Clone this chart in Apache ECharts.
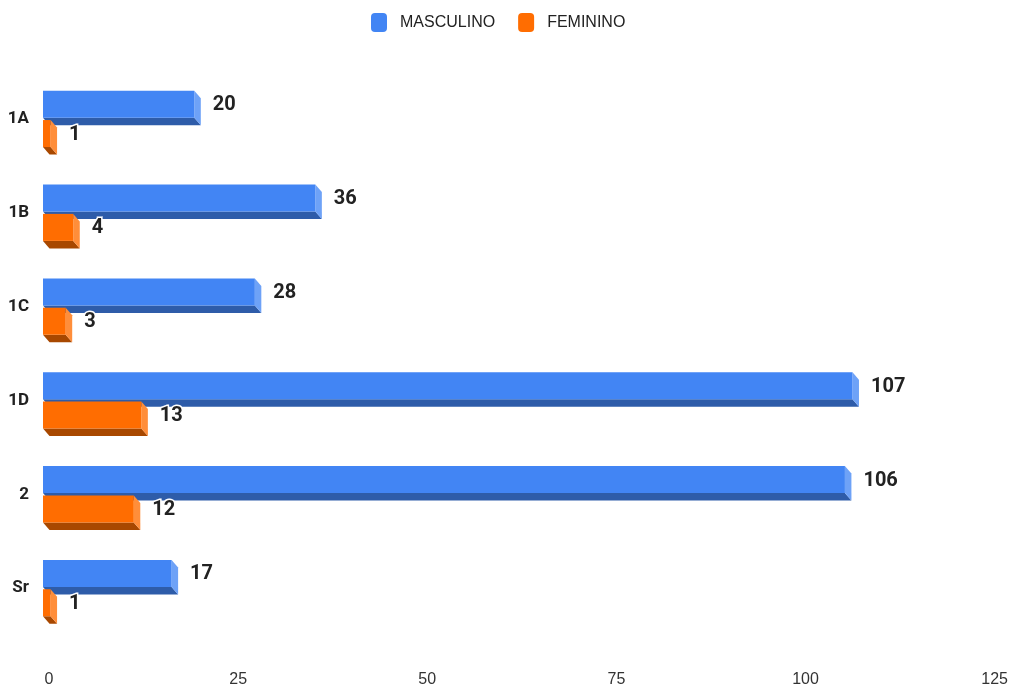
<!DOCTYPE html>
<html>
<head>
<meta charset="utf-8">
<script src="https://cdn.jsdelivr.net/npm/echarts@6/dist/echarts.min.js"></script>
<style>
html,body{margin:0;padding:0;background:#fff;}
#chart{width:1011px;height:688px;}
</style>
</head>
<body>
<div id="chart"></div>
<script>
const categories = ['1A', '1B', '1C', '1D', '2', 'Sr'];
const masculino = [20, 36, 28, 107, 106, 17];
const feminino = [1, 4, 3, 13, 12, 1];
const seriesNames = ['MASCULINO', 'FEMININO'];
const xMin = 0, xMax = 125, xInterval = 25;

const DX = 6.5, DY = 7.5;
const BAR_RATIO = 0.288;
const OFFSET_RATIO = 0.156;

function makeRender(sign, front, bottom, side) {
  return function (params, api) {
    const v = api.value(0);
    const c = api.value(1);
    const p0 = api.coord([0, c]);
    const p1 = api.coord([v, c]);
    const band = api.size([0, 1])[1];
    const h = band * BAR_RATIO;
    const yc = p0[1] + sign * band * OFFSET_RATIO;
    const x0 = p0[0], x1 = p1[0];
    const y0 = yc - h / 2, y1 = yc + h / 2;
    return {
      type: 'group',
      children: [
        { type: 'polygon', shape: { points: [[x0, y1], [x1, y1], [x1 + DX, y1 + DY], [x0 + DX, y1 + DY]] }, style: { fill: bottom } },
        { type: 'polygon', shape: { points: [[x1, y0], [x1 + DX, y0 + DY], [x1 + DX, y1 + DY], [x1, y1]] }, style: { fill: side } },
        { type: 'rect', shape: { x: x0, y: y0, width: x1 - x0, height: h }, style: { fill: front } },
        { type: 'text', z2: 100, style: {
            text: String(v), x: x1 + DX + 12, y: yc + 1,
            verticalAlign: 'middle', align: 'left',
            fontFamily: 'Roboto', fontWeight: 'bold', fontSize: 20,
            fill: '#222', stroke: '#fff', lineWidth: 3
          } }
      ]
    };
  };
}

const chart = echarts.init(document.getElementById('chart'), null, { renderer: 'canvas' });
chart.setOption({
  animation: false,
  backgroundColor: '#fff',
  legend: {
    left: 366, top: 8,
    itemWidth: 16, itemHeight: 19, itemGap: 23,
    icon: 'roundRect',
    textStyle: { fontFamily: 'Liberation Sans', fontSize: 16, color: '#222', padding: [0, 0, 0, 8] },
    data: seriesNames
  },
  grid: { left: 43, right: 20.5, top: 72, bottom: 49, containLabel: false },
  xAxis: {
    type: 'value', min: xMin, max: xMax, interval: xInterval,
    axisLine: { show: false }, axisTick: { show: false }, splitLine: { show: false },
    axisLabel: { fontFamily: 'Liberation Sans', fontSize: 16, color: '#333', margin: 37, padding: [0, 0, 0, 12] }
  },
  yAxis: {
    type: 'category', data: categories, inverse: true,
    axisLine: { show: false }, axisTick: { show: false }, splitLine: { show: false },
    axisLabel: { fontFamily: 'Roboto', fontWeight: 'bold', fontSize: 17, color: '#222', margin: 14, padding: [6, 0, 0, 0] }
  },
  series: [
    {
      name: seriesNames[0], type: 'custom', z: 2,
      itemStyle: { color: '#4285F4' },
      encode: { x: 0, y: 1 },
      renderItem: makeRender(-1, '#4285F4', '#2E5CA9', '#6EA2F7'),
      data: masculino.map((v, i) => [v, i])
    },
    {
      name: seriesNames[1], type: 'custom', z: 3,
      itemStyle: { color: '#FF6D01' },
      encode: { x: 0, y: 1 },
      renderItem: makeRender(1, '#FF6D01', '#A84800', '#FF8E3A'),
      data: feminino.map((v, i) => [v, i])
    }
  ]
});
</script>
</body>
</html>
